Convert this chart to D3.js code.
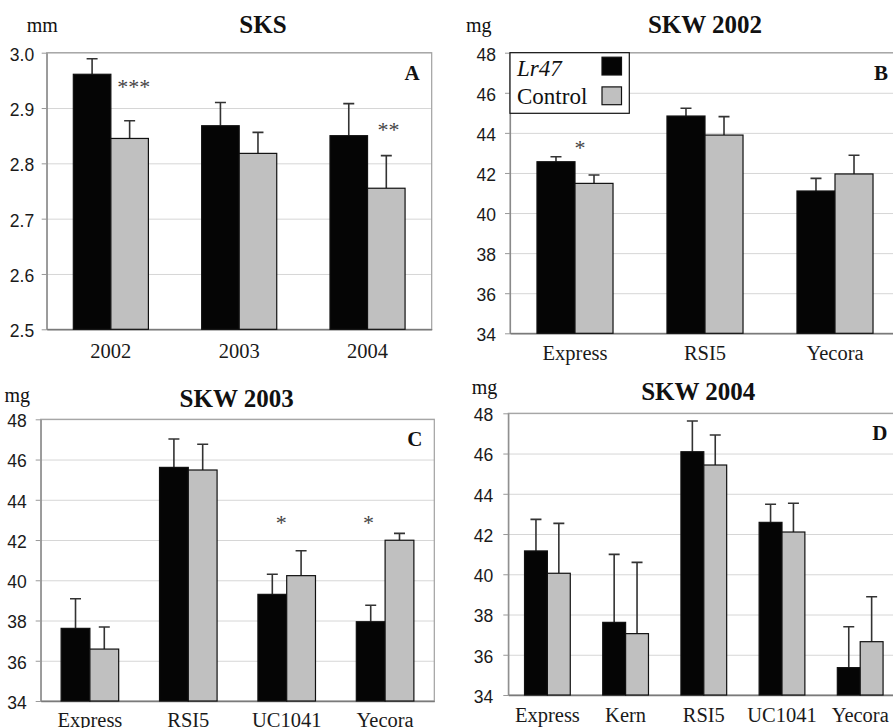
<!DOCTYPE html>
<html>
<head>
<meta charset="utf-8">
<script src="https://cdn.jsdelivr.net/npm/d3@7"></script>
<style>
  body { margin: 0; background: #fff; }
  svg { display: block; }
</style>
</head>
<body>
<svg id="chart"></svg>
<script>
// series names
const series = ['Lr47', 'Control']

// A: seed kernel size (mm)
const sksYears = ['2002', '2003', '2004']
const sksLr47 = [2.961, 2.868, 2.850]
const sksLr47Err = [0.028, 0.042, 0.058]
const sksControl = [2.845, 2.818, 2.755]
const sksControlErr = [0.032, 0.038, 0.059]
const sksTicks = [2.5, 2.6, 2.7, 2.8, 2.9, 3.0]

// B: kernel weight 2002 (mg)
const skw02Cultivars = ['Express', 'RSI5', 'Yecora']
const skw02Lr47 = [42.56, 44.84, 41.10]
const skw02Lr47Err = [0.25, 0.39, 0.63]
const skw02Control = [41.48, 43.89, 41.95]
const skw02ControlErr = [0.42, 0.92, 0.93]

// C: kernel weight 2003 (mg)
const skw03Cultivars = ['Express', 'RSI5', 'UC1041', 'Yecora']
const skw03Lr47 = [37.61, 45.61, 39.30, 37.94]
const skw03Lr47Err = [1.47, 1.41, 1.00, 0.82]
const skw03Control = [36.58, 45.48, 40.23, 41.99]
const skw03ControlErr = [1.10, 1.28, 1.24, 0.34]

// D: kernel weight 2004 (mg)
const skw04Cultivars = ['Express', 'Kern', 'RSI5', 'UC1041', 'Yecora']
const skw04Lr47 = [41.16, 37.61, 46.09, 42.58, 35.36]
const skw04Lr47Err = [1.57, 3.38, 1.53, 0.90, 2.03]
const skw04Control = [40.05, 37.05, 45.43, 42.10, 36.65]
const skw04ControlErr = [2.48, 3.54, 1.49, 1.43, 2.23]

const skwTicks = [34, 36, 38, 40, 42, 44, 46, 48]

// significance marks: category, label, y value of the mark baseline
const sksSig = [['2002', '***', 2.926], ['2004', '**', 2.848]]
const skw02Sig = [['Express', '*', 42.9]]
const skw03Sig = [['UC1041', '*', 42.5], ['Yecora', '*', 42.5]]
const skw04Sig = []

const SVG_WIDTH = 893
const SVG_HEIGHT = 728
const BLACK = '#050505'
const GREY = '#c0c0c0'
const SERIF = "'Liberation Serif', 'Times New Roman', Times, serif"
const SANS = "'Liberation Sans', Arial, Helvetica, sans-serif"

const svg = d3.select('#chart')
  .attr('width', SVG_WIDTH)
  .attr('height', SVG_HEIGHT)

const panels = [
  {
    cats: sksYears, values: [sksLr47, sksControl], errs: [sksLr47Err, sksControlErr],
    ticks: sksTicks, fmt: d3.format('.1f'), sig: sksSig, sigDx: [23, 21],
    left: 46.7, right: 431.7, top: 52.7, bottom: 329.3, labelPad: 29,
    title: 'SKS', titleX: 263, titleY: 33, unit: 'mm', unitX: 26.7, unitY: 31.5, unitAnchor: 'start',
    letter: 'A', labelGap: 12.5
  },
  {
    cats: skw02Cultivars, values: [skw02Lr47, skw02Control], errs: [skw02Lr47Err, skw02ControlErr],
    ticks: skwTicks, fmt: d3.format('d'), sig: skw02Sig, sigDx: [5],
    left: 510, right: 900, top: 52.7, bottom: 333.3, labelPad: 27,
    title: 'SKW 2002', titleX: 705, titleY: 33, unit: 'mg', unitX: 466, unitY: 31.5, unitAnchor: 'start',
    letter: 'B', labelGap: 14, legend: true
  },
  {
    cats: skw03Cultivars, values: [skw03Lr47, skw03Control], errs: [skw03Lr47Err, skw03ControlErr],
    ticks: skwTicks, fmt: d3.format('d'), sig: skw03Sig, sigDx: [-5.5, -16.5],
    left: 40.7, right: 434.3, top: 419.3, bottom: 701, labelPad: 26,
    title: 'SKW 2003', titleX: 236.7, titleY: 406.5, unit: 'mg', unitX: 30, unitY: 401.5, unitAnchor: 'end',
    letter: 'C', labelGap: 14
  },
  {
    cats: skw04Cultivars, values: [skw04Lr47, skw04Control], errs: [skw04Lr47Err, skw04ControlErr],
    ticks: skwTicks, fmt: d3.format('d'), sig: skw04Sig, sigDx: [],
    left: 508.3, right: 899.3, top: 413.3, bottom: 695, labelPad: 27,
    title: 'SKW 2004', titleX: 698.3, titleY: 400, unit: 'mg', unitX: 471.7, unitY: 394, unitAnchor: 'start',
    letter: 'D', labelGap: 15
  }
]

panels.forEach(drawPanel)

function drawPanel(p) {
  const g = svg.append('g')
  const width = p.right - p.left

  const x0 = d3.scaleBand()
    .domain(p.cats)
    .range([p.left, p.right])
    .paddingInner(0.415)
    .paddingOuter(0.2075)

  const x1 = d3.scaleBand()
    .domain(series)
    .range([0, x0.bandwidth()])

  const y = d3.scaleLinear()
    .domain(d3.extent(p.ticks))
    .range([p.bottom, p.top])

  // grid lines
  g.append('g')
    .attr('transform', `translate(${p.left}, 0)`)
    .call(d3.axisLeft(y).tickValues(p.ticks).tickSize(-width).tickFormat(''))
    .call(a => a.select('.domain').remove())
    .call(a => a.selectAll('line').attr('stroke', '#d6d6d6'))

  // frame
  g.append('rect')
    .attr('x', p.left)
    .attr('y', p.top)
    .attr('width', width)
    .attr('height', p.bottom - p.top)
    .attr('fill', 'none')
    .attr('stroke', '#a0a0a0')
    .attr('stroke-width', 1.2)

  // y axis
  g.append('g')
    .attr('transform', `translate(${p.left}, 0)`)
    .call(d3.axisLeft(y).tickValues(p.ticks).tickSize(5).tickSizeOuter(0)
      .tickPadding(p.labelGap - 5).tickFormat(p.fmt))
    .attr('font-family', SANS)
    .attr('font-size', 17.5)
    .call(a => a.select('.domain').attr('stroke', '#8a8a8a').attr('stroke-width', 1.2))
    .call(a => a.selectAll('line').attr('stroke', '#999'))
    .call(a => a.selectAll('text')
      .attr('fill', '#1a1a1a')
      .attr('dy', '0.42em'))

  // x axis
  g.append('g')
    .attr('transform', `translate(0, ${p.bottom})`)
    .call(d3.axisBottom(x0).tickSize(0).tickPadding(p.labelPad).tickSizeOuter(0))
    .attr('font-family', SERIF)
    .attr('font-size', 20.5)
    .call(a => a.select('.domain').attr('stroke', '#7a7a7a').attr('stroke-width', 1.4))
    .call(a => a.selectAll('text')
      .attr('fill', '#1a1a1a')
      .attr('dy', 0))

  const rows = p.cats.map((c, i) => series.map((s, j) => ({
    cat: c, key: s, value: p.values[j][i], err: p.errs[j][i]
  })))

  const groups = g.selectAll('.group')
    .data(rows)
    .enter()
    .append('g')
    .attr('class', 'group')
    .attr('transform', d => `translate(${x0(d[0].cat)}, 0)`)

  // error bars (upper only)
  groups.selectAll('.err')
    .data(d => d)
    .enter()
    .append('path')
    .attr('class', 'err')
    .attr('fill', 'none')
    .attr('stroke', '#333')
    .attr('stroke-width', 1.6)
    .attr('d', d => {
      const cx = x1(d.key) + x1.bandwidth() / 2
      const top = y(d.value + d.err)
      return `M${cx},${y(d.value)}V${top}M${cx - 5.5},${top}H${cx + 5.5}`
    })

  groups.selectAll('rect')
    .data(d => d)
    .enter()
    .append('rect')
    .attr('x', d => x1(d.key))
    .attr('y', d => y(d.value))
    .attr('width', x1.bandwidth())
    .attr('height', d => p.bottom - y(d.value))
    .attr('fill', d => d.key === 'Lr47' ? BLACK : GREY)
    .attr('stroke', '#111')
    .attr('stroke-width', 1.2)

  // significance marks
  g.selectAll('.sig')
    .data(p.sig)
    .enter()
    .append('text')
    .attr('font-family', SERIF)
    .attr('x', (d, i) => x0(d[0]) + x0.bandwidth() / 2 + p.sigDx[i])
    .attr('y', d => y(d[2]))
    .attr('text-anchor', 'middle')
    .attr('font-size', 22)
    .attr('fill', '#444')
    .text(d => d[1])

  // titles and labels
  g.append('text')
    .attr('font-family', SERIF)
    .attr('x', p.titleX)
    .attr('y', p.titleY)
    .attr('text-anchor', 'middle')
    .attr('font-size', 25)
    .attr('font-weight', 'bold')
    .attr('fill', '#111')
    .text(p.title)

  g.append('text')
    .attr('font-family', SERIF)
    .attr('x', p.unitX)
    .attr('y', p.unitY)
    .attr('text-anchor', p.unitAnchor)
    .attr('font-size', 20)
    .attr('fill', '#111')
    .text(p.unit)

  g.append('text')
    .attr('font-family', SERIF)
    .attr('x', p.right - 12)
    .attr('y', p.top + 27)
    .attr('text-anchor', 'end')
    .attr('font-size', 21)
    .attr('font-weight', 'bold')
    .attr('fill', '#111')
    .text(p.letter)

  if (p.legend) drawLegend(p)
}

function drawLegend(p) {
  const lg = svg.append('g').attr('transform', `translate(${p.left}, ${p.top})`)

  lg.append('rect')
    .attr('width', 119.3)
    .attr('height', 60.6)
    .attr('fill', '#fff')
    .attr('stroke', '#111')
    .attr('stroke-width', 1.2)

  const items = lg.selectAll('.item')
    .data(series)
    .enter()
    .append('g')
    .attr('transform', (d, i) => `translate(0, ${i * 29.7})`)

  items.append('text')
    .attr('font-family', SERIF)
    .attr('x', 7)
    .attr('y', (d, i) => i ? 21.5 : 23)
    .attr('font-size', 23)
    .attr('font-style', d => d === 'Lr47' ? 'italic' : 'normal')
    .attr('fill', '#111')
    .text(d => d)

  items.append('rect')
    .attr('x', 92)
    .attr('y', 4.5)
    .attr('width', 19.5)
    .attr('height', 17.8)
    .attr('fill', d => d === 'Lr47' ? BLACK : GREY)
    .attr('stroke', '#111')
    .attr('stroke-width', 1.2)
}
</script>
</body>
</html>
